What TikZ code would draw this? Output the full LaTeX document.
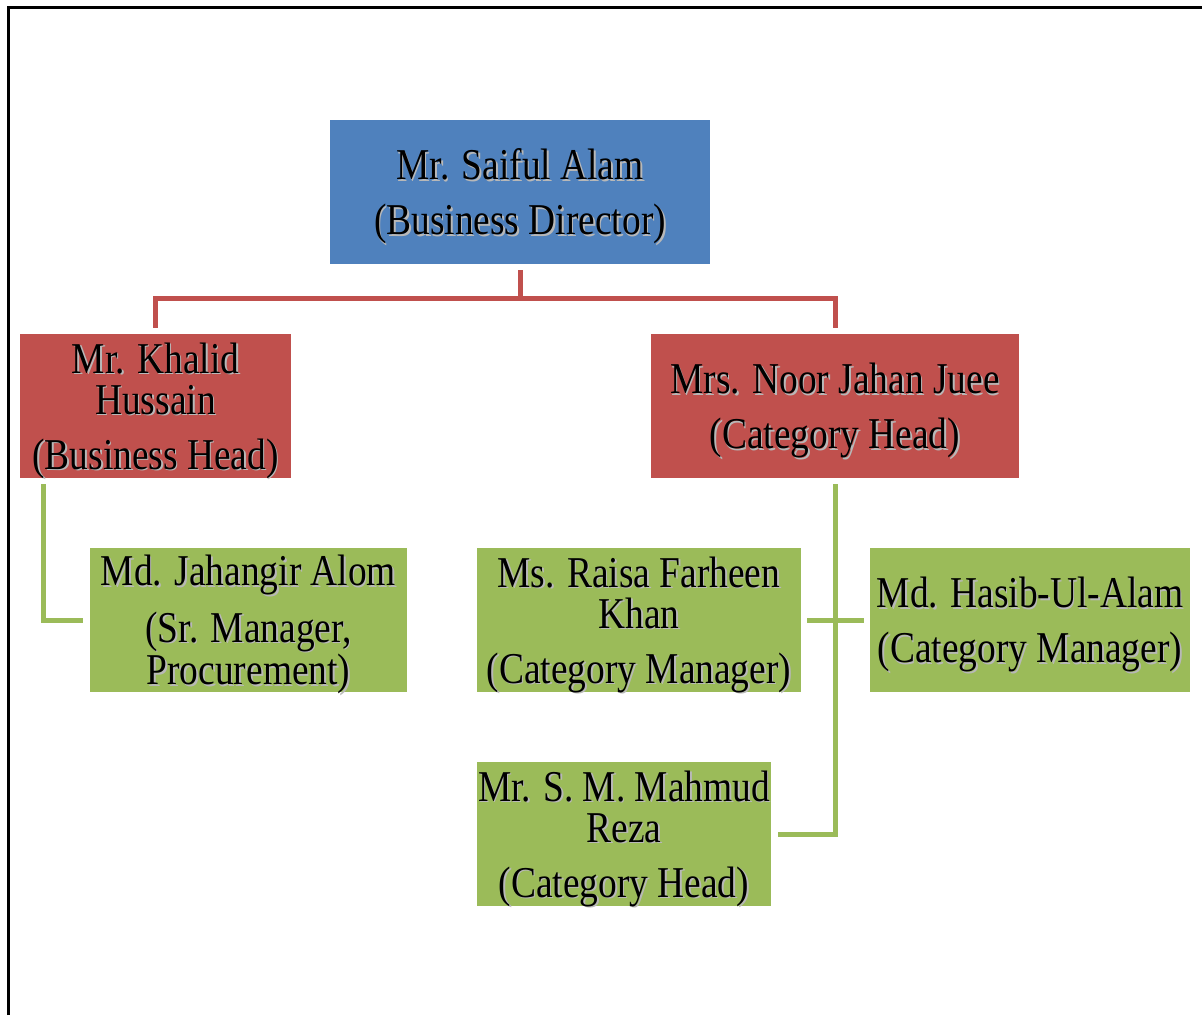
\documentclass[tikz,border=0pt]{standalone}
\usepackage{fontspec}
\setmainfont[FakeStretch=0.85]{Liberation Serif}
\usetikzlibrary{calc}
\definecolor{boxblue}{HTML}{4F81BD}
\definecolor{boxred}{HTML}{C0504D}
\definecolor{boxgreen}{HTML}{9BBB59}
\newcommand\shd[1]{\leavevmode\rlap{\kern1.6pt\raisebox{-1.6pt}{\textcolor{black!28}{#1}}}#1}
\tikzset{
  orgbox/.style={rectangle, inner sep=0pt, minimum height=144, align=center,
    text=black, font={\fontsize{44}{41}\selectfont}, text depth=0pt},
  redline/.style={draw=boxred, line width=5pt},
  greenline/.style={draw=boxgreen, line width=5pt},
}
\begin{document}
\begin{tikzpicture}[x=1pt,y=-1pt]
\useasboundingbox (0,0) rectangle (1202,1015);
\fill[white] (0,0) rectangle (1202,1015);
\draw[line width=3pt] (8,1015) -- (8,7.5) -- (1202,7.5);

\node[orgbox, fill=boxblue, minimum width=380] (top) at (520,192)
  {\shd{Mr. Saiful Alam}\\[14pt]\shd{(Business Director)}};
\node[orgbox, fill=boxred, minimum width=271] (khalid) at (155.5,406)
  {\shd{Mr. Khalid}\\\shd{Hussain}\\[14pt]\shd{(Business Head)}};
\node[orgbox, fill=boxred, minimum width=368] (noor) at (835,406)
  {\shd{Mrs. Noor Jahan Juee}\\[14pt]\shd{(Category Head)}};
\node[orgbox, fill=boxgreen, minimum width=317] (jahangir) at (248.5,620)
  {\shd{Md. Jahangir Alom}\\[14pt]\shd{(Sr. Manager,}\\\shd{Procurement)}};
\node[orgbox, fill=boxgreen, minimum width=324] (raisa) at (639,620)
  {\shd{Ms. Raisa Farheen}\\\shd{Khan}\\[14pt]\shd{(Category Manager)}};
\node[orgbox, fill=boxgreen, minimum width=320] (hasib) at (1030,620)
  {\shd{Md. Hasib-Ul-Alam}\\[14pt]\shd{(Category Manager)}};
\node[orgbox, fill=boxgreen, minimum width=294] (mahmud) at (624,834)
  {\shd{Mr. S. M. Mahmud}\\\shd{Reza}\\[14pt]\shd{(Category Head)}};

\coordinate (topS) at ($(top.south)+(0,6)$);
\coordinate (bus) at ($(top.south)+(0,34.5)$);
\coordinate (khalidN) at ($(khalid.north)+(0,-6)$);
\coordinate (noorN) at ($(noor.north)+(0,-6)$);
\draw[redline] (topS) -- (bus);
\draw[redline] (bus) -| (khalidN);
\draw[redline] (bus) -| (noorN);

\coordinate (khalidS) at ($(khalid.south west)+(24,6)$);
\coordinate (jahW) at ($(jahangir.west)+(-7,0)$);
\draw[greenline] (khalidS) |- (jahW);

\coordinate (noorS) at ($(noor.south)+(0,6)$);
\coordinate (raisaE) at ($(raisa.east)+(6,0)$);
\coordinate (hasibW) at ($(hasib.west)+(-6,0)$);
\coordinate (mahmudE) at ($(mahmud.east)+(7,0)$);
\draw[greenline] (noorS) |- (mahmudE);
\draw[greenline] (raisaE) -- (hasibW);
\end{tikzpicture}
\end{document}
